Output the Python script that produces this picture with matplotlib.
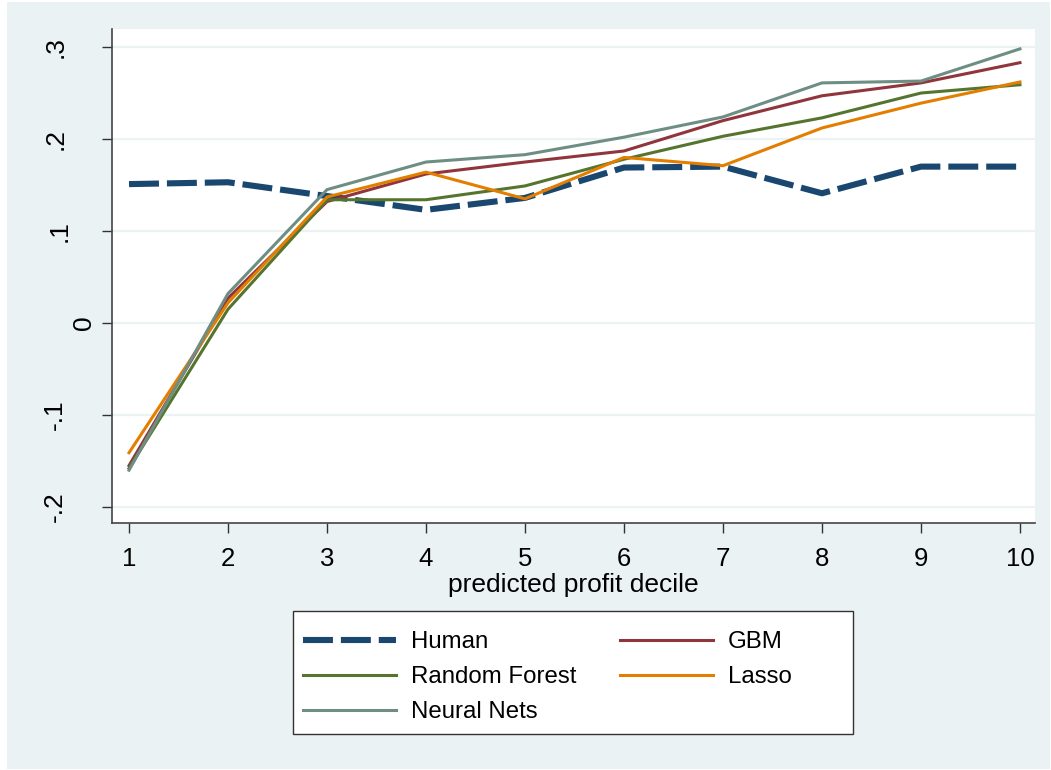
import matplotlib.pyplot as plt
from matplotlib.patches import Rectangle

deciles = [1, 2, 3, 4, 5, 6, 7, 8, 9, 10]
human = [0.151, 0.153, 0.138, 0.123, 0.136, 0.169, 0.170, 0.141, 0.170, 0.170]
gbm = [-0.155, 0.027, 0.132, 0.162, 0.175, 0.187, 0.220, 0.247, 0.261, 0.283]
random_forest = [-0.158, 0.015, 0.134, 0.134, 0.149, 0.178, 0.203, 0.223, 0.250, 0.259]
lasso = [-0.141, 0.022, 0.137, 0.164, 0.135, 0.180, 0.171, 0.212, 0.239, 0.262]
neural_nets = [-0.160, 0.032, 0.145, 0.175, 0.183, 0.202, 0.224, 0.261, 0.263, 0.298]

y_ticks = [-0.2, -0.1, 0, 0.1, 0.2, 0.3]
y_tick_labels = ['-.2', '-.1', '0', '.1', '.2', '.3']

plt.rcParams['font.family'] = ['Liberation Sans', 'DejaVu Sans']

W, H = 1051, 770
bg = '#EAF2F3'
fig = plt.figure(figsize=(W / 100, H / 100), dpi=100, facecolor='white')
fig.patches.append(Rectangle((7 / W, 1 / H), 1043 / W, 767 / H,
                             transform=fig.transFigure, facecolor=bg,
                             edgecolor='none', zorder=-10))

ax_left, ax_w = 112, 923
ax = fig.add_axes([ax_left / W, 247 / H, ax_w / W, 494 / H])
ax.set_facecolor('white')

for y in y_ticks:
    ax.axhline(y, color=bg, lw=1.6, zorder=0)

l_human, = ax.plot(deciles, human, color='#1A476F', lw=4.4, dashes=(4.9, 1.3),
                   dash_capstyle='butt', label='Human')
l_gbm, = ax.plot(deciles, gbm, color='#90353B', lw=2.2, label='GBM')
l_rf, = ax.plot(deciles, random_forest, color='#55752F', lw=2.2, label='Random Forest')
l_lasso, = ax.plot(deciles, lasso, color='#E37E00', lw=2.2, label='Lasso')
l_nn, = ax.plot(deciles, neural_nets, color='#6E8E84', lw=2.2, label='Neural Nets')

ax.set_xlim(0.828, 10.152)
ax.set_ylim(-0.2174, 0.3196)
ax.set_xticks(deciles)
ax.set_yticks(y_ticks)
ax.set_yticklabels([])
ax.tick_params(axis='both', length=7.5, width=1, color='#333333', labelsize=18.5)
ax.tick_params(axis='x', pad=10)

# stata-style vertical labels, baseline x position in pixels
label_x = {'-.2': 62, '-.1': 62, '0': 91, '.1': 67, '.2': 63, '.3': 63}
for val, lab in zip(y_ticks, y_tick_labels):
    ax.text((label_x[lab] - ax_left) / ax_w, val, lab, rotation=90,
            rotation_mode='anchor', ha='center', va='baseline',
            fontsize=19, transform=ax.get_yaxis_transform(), clip_on=False)

for side in ['top', 'right']:
    ax.spines[side].set_visible(False)
for side in ['left', 'bottom']:
    ax.spines[side].set_color('#444444')
    ax.spines[side].set_linewidth(1.2)

ax.set_xlabel('predicted profit decile', fontsize=19, labelpad=1)

# legend box drawn separately (stata leaves extra room on the right)
fig.patches.append(Rectangle((293 / W, (H - 734) / H), 560 / W, 123 / H,
                             transform=fig.transFigure, facecolor='white',
                             edgecolor='#333333', lw=1, zorder=4))
leg = fig.legend([l_human, l_rf, l_nn, l_gbm, l_lasso],
                 ['Human', 'Random Forest', 'Neural Nets', 'GBM', 'Lasso'],
                 ncol=2, loc='upper left', bbox_to_anchor=(303 / W, 1 - 631 / H),
                 fontsize=17.3, handlelength=3.85, handletextpad=0.63,
                 columnspacing=1.85, labelspacing=0.55, borderpad=0,
                 borderaxespad=0, frameon=False)
leg.set_zorder(5)

plt.savefig('out.png', dpi=100, facecolor=fig.get_facecolor())
